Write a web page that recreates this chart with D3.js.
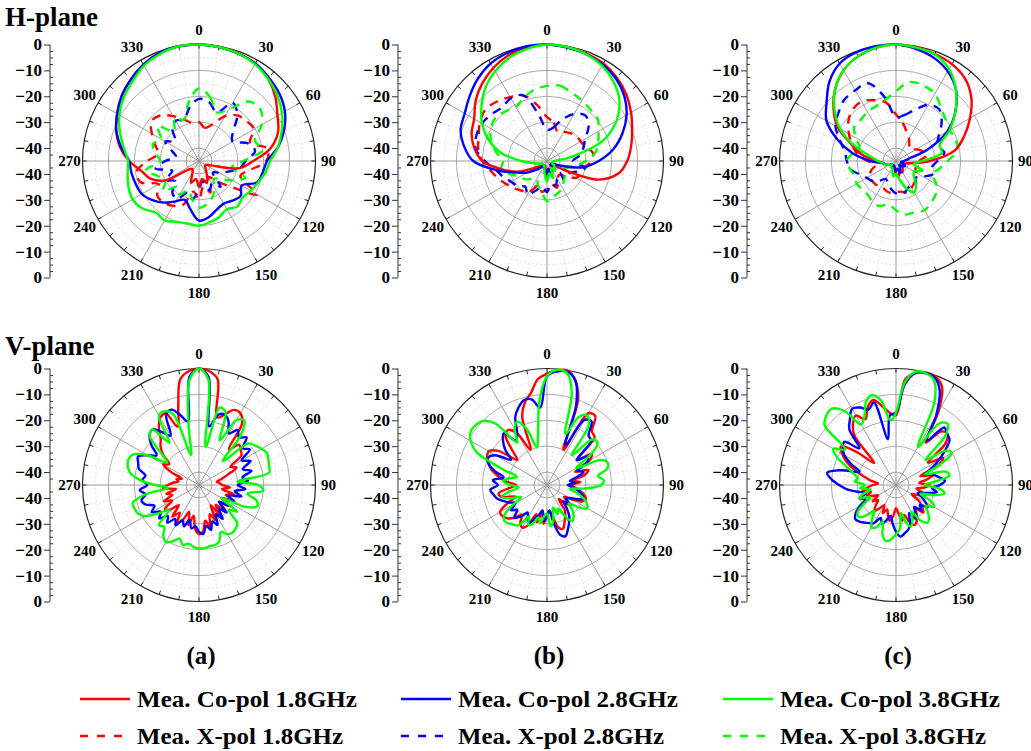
<!DOCTYPE html>
<html>
<head>
<meta charset="utf-8">
<script src="https://cdn.jsdelivr.net/npm/d3@7"></script>
<style>
    body { margin: 0; background: #fff; }
    svg text { font-family: "Liberation Serif", "DejaVu Serif", "Times New Roman", serif !important; font-weight: bold; fill: #000; }
</style>
</head>
<body>
<svg id="chart" width="1031" height="751" font-family="Liberation Serif, DejaVu Serif, serif"></svg>
<script>

// angles (deg) for the H-plane cuts and V-plane cuts
var anglesH = d3.range(0, 360, 10);
var anglesV = d3.range(0, 360, 5);

var panelLabels = ["(a)", "(b)", "(c)"];
var radialTicks = [0, -10, -20, -30, -40];
var angleTicks = [0, 30, 60, 90, 120, 150, 180, 210, 240, 270, 300, 330];

var legendNames = ["Mea. Co-pol 1.8GHz", "Mea. Co-pol 2.8GHz", "Mea. Co-pol 3.8GHz",
    "Mea. X-pol 1.8GHz", "Mea. X-pol 2.8GHz", "Mea. X-pol 3.8GHz"];

// H-plane, panel (a)
var hA_co18 = [0,-0.3,-0.8,-1.5,-3.5,-6.5,-10,-12.5,-17,-24,-29,-40,-42,-42,-41,-39,-36,-38,-35,-38,-36,-40,-41,-40,-30,-25,-22.5,-18,-14,-11,-8.5,-6,-4,-2,-0.5,0];
var hA_co28 = [0,-0.3,-0.8,-1.5,-3,-4.5,-6.7,-10,-14,-18.7,-20,-21,-26,-24,-25,-26,-25,-23,-22,-26,-29,-27,-24,-21.5,-19.5,-19,-18.5,-18,-14.5,-11,-8.5,-6,-4,-2,-0.5,0];
var hA_co38 = [0,-0.3,-0.8,-1.8,-3.5,-5.5,-8,-11,-14,-17.5,-19,-20.7,-22,-23,-22,-23.5,-22,-21,-20,-20.5,-20,-18.5,-19,-16.5,-15.4,-16,-17,-17.6,-15.5,-12.5,-9.5,-7,-5,-2.5,-1,0];
var hA_x18 = [-30,-32,-30,-25,-22,-21,-20.5,-24,-18,-19,-25,-28,-19,-30,-35,-38,-32,-35,-30,-33,-27,-25,-24,-24,-27,-21,-20.5,-25,-29,-27,-24,-21,-22,-25,-28,-30];
var hA_x28 = [-21,-22,-25,-19,-22,-28,-30,-25,-23,-27,-29,-33,-36,-38,-32,-35,-33,-37,-34,-30,-32,-28,-29,-33,-30,-34,-28,-32,-36,-34,-30,-33,-29,-27,-28,-24];
var hA_x38 = [-17,-20,-25,-22,-15,-14,-17,-22,-20,-28,-32,-26,-30,-34,-36,-33,-30,-28,-27,-30,-33,-30,-32,-27,-30,-28,-24,-30,-28,-26,-28,-24,-30,-26,-28,-22];

// H-plane, panel (b)
var hB_co18 = [0,-0.3,-0.8,-1.5,-3,-5,-7.5,-10,-12,-14,-17,-24,-40,-43,-43,-42,-40,-42,-39,-42,-43,-43,-43,-42,-40,-33,-27,-20,-16.5,-14,-12.5,-9,-6,-3.5,-1.5,-0.5];
var hB_co28 = [0,-0.5,-1,-2,-3.5,-6,-9.5,-14,-19,-25,-31,-40,-43,-43,-42,-41,-40,-42,-40,-41,-42,-43,-42,-40,-36,-32,-25,-16.5,-12.5,-9.5,-8.3,-6,-3.5,-1.5,-0.5,0];
var hB_co38 = [0,-0.3,-1,-2.5,-5,-8.5,-14,-22,-35,-42,-43,-43,-42,-41,-40,-42,-38,-40,-37,-40,-42,-43,-43,-43,-43,-42,-40,-35,-27,-21,-16,-12,-8,-5,-2.5,-1];
var hB_x18 = [-28,-30,-33,-32,-31,-30,-30,-29,-27,-28,-30,-31,-32,-36,-38,-36,-34,-36,-34,-33,-35,-31,-30,-28.5,-27,-25,-23,-20,-18,-17,-15,-14,-15,-16.5,-18,-23];
var hB_x28 = [-33,-32,-28,-24,-22,-24,-28,-30,-32,-35,-30,-33,-36,-38,-35,-37,-35,-36,-33,-35,-33,-30,-32,-30,-29,-27,-25,-21,-17,-16,-16,-17,-18,-17,-18,-27];
var hB_x38 = [-16,-15.5,-17,-18,-19,-19.5,-22,-24,-26,-30,-34,-37,-38,-36,-35,-33,-32,-31,-29.5,-33,-35,-37,-36,-34,-33,-30,-27,-28,-25,-22,-20,-19,-20,-21,-19,-17];

// H-plane, panel (c)
var hC_co18 = [0,-0.3,-1,-1.8,-3.5,-7,-12,-17,-22,-32,-40,-42,-43,-42,-41,-40,-41,-39,-40,-42,-43,-43,-42,-43,-42,-41,-40,-38,-32,-27,-19,-13.5,-8.5,-4.5,-2,-0.5];
var hC_co28 = [0,-1,-2.5,-5,-9,-15,-22,-32,-40,-42,-43,-42,-41,-42,-43,-42,-40,-42,-41,-42,-43,-43,-42,-43,-42,-41,-40,-35,-28,-21,-14,-10,-5,-1.5,-0.3,0];
var hC_co38 = [0,-0.5,-1.2,-4,-9,-15,-21,-27,-27,-35,-38,-34,-37,-36,-33,-31,-34,-38,-40,-39,-41,-42,-42,-43,-42,-41,-40,-38,-35,-28,-20,-14,-8.5,-4.5,-2,-0.5];
var hC_x18 = [-27,-30,-33,-35,-37,-38,-36,-34,-33,-36,-35,-37,-36,-35,-34,-33,-32,-33,-33,-32.5,-33,-34,-33,-33,-33,-35,-37,-34,-30,-27,-24,-21,-19,-18.5,-20,-22];
var hC_x28 = [-28,-27,-24,-20,-19,-22,-26,-28,-26,-29,-31,-30,-33,-35,-33,-34,-33,-32,-32.5,-34,-36,-37,-35,-33,-32,-30,-27,-26,-25,-22,-18,-16,-14,-13.5,-13,-20];
var hC_x38 = [-18,-14,-14,-15,-18,-20,-21,-20.5,-21,-25,-28,-30,-27,-25,-24,-23,-24,-24,-26,-28,-26.5,-27,-28,-28,-27.5,-28,-27,-26,-28,-30,-27,-24,-24,-23,-22.5,-21];

// V-plane, panel (a)
var vA_co18 = [0,-0.8,-3.5,-18,-16,-13,-13,-16,-27,-23,-24,-25,
    -31,-29,-33,-36,-38,-37,-36,-33,-36,-31,-34,-30,
    -35,-31,-34,-30,-35,-31,-36,-30,-33,-28,-31,-27,
    -26,-28,-33,-29,-34,-30,-28,-32,-29,-34,-30,-29,
    -33,-30,-34,-32,-36,-31,-33,-35,-37,-36,-38,-33,
    -29,-31,-27,-24,-22,-18,-15,-14.5,-21,-14,-3.5,-0.8];
var vA_co28 = [0,-3,-22,-17,-16,-18,-22,-19,-21,-19,-23,-21,
    -26,-23,-27,-24,-28,-26,-30,-27,-31,-28,-33,-30,
    -34,-31,-35,-30,-33,-29,-32,-28,-30,-27,-29,-26,
    -27,-29,-28,-31,-28,-30,-27,-29,-26,-28,-25,-27,
    -24,-26,-23,-22,-24,-22,-25,-23,-24,-21,-20,-19,
    -22,-25,-21,-18,-17,-20,-23,-15,-14,-17,-20,-3];
var vA_co38 = [0,-4,-30,-14,-15,-26,-16,-14.5,-20,-32,-20,-18.5,
    -17,-16,-16.5,-17,-17.5,-30,-22,-20,-26,-22,-21,-25,
    -35,-27,-30,-24,-23,-22.5,-23,-25,-22,-21,-21,-20.5,
    -20.5,-21,-22,-21,-23,-21,-19.5,-21,-24,-23,-30,-26,
    -21,-19,-18.5,-18.5,-24,-33,-28,-22,-18,-16.5,-16,-17,
    -22,-30,-26,-18,-17,-25,-14,-13.5,-16,-33,-22,-4];

// V-plane, panel (b)
var vB_co18 = [-2,-0.5,0,-3,-10,-30,-13,-12.5,-18,-19,-30,-24,
    -26,-33,-28,-30,-35,-32,-36,-34,-32,-30,-29,-30,
    -34,-37,-33,-35,-38,-33,-31,-29,-27,-28,-33,-35,
    -33,-30,-34,-30,-33,-28,-26,-27,-30,-27,-25,-24,
    -24,-28,-32,-27,-26,-30,-33,-29,-26,-23,-21,-19.5,
    -19,-22,-30,-26,-20,-19,-22,-30,-17,-12,-9,-4];
var vB_co28 = [-3,-1,-0.5,-3,-12,-28,-16,-15,-20,-21,-30,-26,
    -27,-32,-30,-33,-36,-34,-37,-35,-33,-31,-30,-32,
    -35,-36,-34,-36,-33,-30,-28,-26,-24,-25,-30,-35,
    -33,-31,-35,-33,-31,-29,-30,-32,-29,-27,-30,-28,
    -31,-29,-27,-25,-24,-23,-26,-24,-28,-24,-21,-20,
    -22,-28,-24,-21,-19,-24,-22,-16,-13,-11,-11.5,-15];
var vB_co38 = [-3,-0.3,-1,-8,-24,-16,-14,-17,-30,-20,-19.5,-24,
    -32,-22,-20,-21,-25,-23,-24,-30,-36,-33,-30,-28,
    -27,-30,-34,-31,-29,-28,-31,-35,-33,-36,-31,-29,
    -34,-33,-30,-32,-29,-28,-31,-26,-25,-24,-23.5,-25,
    -30,-34,-30,-27,-30,-34,-31,-28,-30,-33,-26,-15,
    -11,-9,-9,-10,-14,-25,-20,-18,-22,-30,-25,-12];

// V-plane, panel (c)
var vC_co18 = [-18,-4,-1,0,-0.5,-3,-12,-25,-18,-17,-20,-30,
    -24,-27,-35,-30,-33,-36,-32,-34,-37,-35,-33,-36,
    -38,-34,-32,-30,-33,-31,-29,-28,-30,-33,-31,-34,
    -36,-33,-31,-33,-35,-33,-36,-34,-32,-34,-36,-34,
    -37,-35,-33,-35,-32,-34,-36,-38,-35,-32,-28,-24,
    -21,-19,-25,-33,-20,-16,-14,-17,-13,-11,-14,-17];
var vC_co28 = [-17,-6,-1,-0.3,-1,-5,-14,-24,-16,-17,-18,-22,
    -26,-30,-33,-30,-28,-26,-28,-31,-29,-33,-36,-34,
    -32,-30,-33,-31,-34,-32,-30,-33,-29,-27,-26,-25,
    -27,-30,-33,-31,-29,-31,-28,-27,-26,-25,-24.5,-26,
    -29,-32,-30,-33,-30,-26,-23,-20,-18,-23,-30,-26,
    -22,-20,-19,-25,-17,-14,-11,-12,-14,-12,-27,-18];
var vC_co38 = [-17,-5,-0.5,-0.3,-2,-10,-28,-16,-14,-18,-30,-22,
    -20,-26,-33,-25,-24,-30,-34,-28,-26,-30,-35,-30,
    -28,-31,-29,-27,-26,-28,-33,-30,-28,-30,-34,-28,
    -26,-24,-23,-25,-30,-27,-26,-29,-32,-28,-26,-27,
    -31,-34,-30,-32,-35,-31,-33,-29,-30,-28,-25,-20,
    -17,-21,-9,-7,-6.5,-10,-18,-16,-11,-9,-12,-20];

var colors = ["#ff0000", "#0000ff", "#00ff00"];

function init() {

    var svg = d3.select("#chart");
    var R = 116.5;
    var centresX = [199, 547, 896];
    var centresY = [161, 485];

    var r = d3.scaleLinear().domain([-45, 0]).range([0, R]).clamp(true);

    function series(angles, values, color, dashed) {
        return {
            color: color,
            dashed: dashed,
            points: angles.map(function (a, i) {
                return {a: a, v: values[i]};
            })
        };
    }

    var panels = [
        {row: 0, col: 0, lines: [
            series(anglesH, hA_x18, colors[0], true), series(anglesH, hA_x28, colors[1], true), series(anglesH, hA_x38, colors[2], true),
            series(anglesH, hA_co18, colors[0], false), series(anglesH, hA_co28, colors[1], false), series(anglesH, hA_co38, colors[2], false)]},
        {row: 0, col: 1, lines: [
            series(anglesH, hB_x18, colors[0], true), series(anglesH, hB_x28, colors[1], true), series(anglesH, hB_x38, colors[2], true),
            series(anglesH, hB_co18, colors[0], false), series(anglesH, hB_co28, colors[1], false), series(anglesH, hB_co38, colors[2], false)]},
        {row: 0, col: 2, lines: [
            series(anglesH, hC_x18, colors[0], true), series(anglesH, hC_x28, colors[1], true), series(anglesH, hC_x38, colors[2], true),
            series(anglesH, hC_co18, colors[0], false), series(anglesH, hC_co28, colors[1], false), series(anglesH, hC_co38, colors[2], false)]},
        {row: 1, col: 0, lines: [
            series(anglesV, vA_co18, colors[0], false), series(anglesV, vA_co28, colors[1], false), series(anglesV, vA_co38, colors[2], false)]},
        {row: 1, col: 1, lines: [
            series(anglesV, vB_co18, colors[0], false), series(anglesV, vB_co28, colors[1], false), series(anglesV, vB_co38, colors[2], false)]},
        {row: 1, col: 2, lines: [
            series(anglesV, vC_co18, colors[0], false), series(anglesV, vC_co28, colors[1], false), series(anglesV, vC_co38, colors[2], false)]}
    ];

    function drawPanel(panel) {
        var cx = centresX[panel.col];
        var cy = centresY[panel.row];
        var g = svg.append("g").attr("transform", "translate(" + cx + "," + cy + ")");

        //dotted minor rings and spokes
        g.selectAll(".minor-ring")
            .data([-5, -15, -25, -35])
            .enter()
            .append("circle")
            .attr("r", function (d) { return r(d); })
            .attr("fill", "none")
            .attr("stroke", "#c8c8c8")
            .attr("stroke-width", 0.7)
            .attr("stroke-dasharray", "1.5,2.5");

        g.selectAll(".minor-spoke")
            .data(d3.range(0, 360, 10).filter(function (a) { return a % 30 !== 0; }))
            .enter()
            .append("line")
            .attr("x1", 0).attr("y1", 0)
            .attr("x2", function (d) { return R * Math.sin(d * Math.PI / 180); })
            .attr("y2", function (d) { return -R * Math.cos(d * Math.PI / 180); })
            .attr("stroke", "#c8c8c8")
            .attr("stroke-width", 0.7)
            .attr("stroke-dasharray", "1.5,2.5");

        //major rings and spokes
        g.selectAll(".major-ring")
            .data([-10, -20, -30, -40])
            .enter()
            .append("circle")
            .attr("r", function (d) { return r(d); })
            .attr("fill", "none")
            .attr("stroke", "#a0a0a0")
            .attr("stroke-width", 0.9);

        g.selectAll(".major-spoke")
            .data(angleTicks)
            .enter()
            .append("line")
            .attr("x1", 0).attr("y1", 0)
            .attr("x2", function (d) { return R * Math.sin(d * Math.PI / 180); })
            .attr("y2", function (d) { return -R * Math.cos(d * Math.PI / 180); })
            .attr("stroke", "#909090")
            .attr("stroke-width", 0.9);

        //outer circle with 10 degree ticks
        g.append("circle")
            .attr("r", R)
            .attr("fill", "none")
            .attr("stroke", "#222")
            .attr("stroke-width", 1.2);

        g.selectAll(".outer-tick")
            .data(d3.range(0, 360, 10))
            .enter()
            .append("line")
            .attr("x1", function (d) { return R * Math.sin(d * Math.PI / 180); })
            .attr("y1", function (d) { return -R * Math.cos(d * Math.PI / 180); })
            .attr("x2", function (d) { return (R - 4) * Math.sin(d * Math.PI / 180); })
            .attr("y2", function (d) { return -(R - 4) * Math.cos(d * Math.PI / 180); })
            .attr("stroke", "#222")
            .attr("stroke-width", 1);

        g.selectAll(".angle-label")
            .data(angleTicks)
            .enter()
            .append("text")
            .attr("x", function (d) { return (R + 13 + 5 * Math.abs(Math.cos(d * Math.PI / 180))) * Math.sin(d * Math.PI / 180); })
            .attr("y", function (d) { return -(R + 15) * Math.cos(d * Math.PI / 180); })
            .attr("text-anchor", "middle")
            .attr("dominant-baseline", "central")
            .attr("font-size", 15)
            .text(function (d) { return d; });

        //pattern curves
        var line = d3.lineRadial()
            .angle(function (d) { return d.a * Math.PI / 180; })
            .radius(function (d) { return r(d.v); })
            .curve(d3.curveCatmullRomClosed.alpha(0.5));

        g.selectAll(".trace")
            .data(panel.lines)
            .enter()
            .append("path")
            .attr("d", function (d) { return line(d.points); })
            .attr("fill", "none")
            .attr("stroke", function (d) { return d.color; })
            .attr("stroke-width", 2.4)
            .attr("stroke-linejoin", "round")
            .attr("stroke-dasharray", function (d) { return d.dashed ? "9,7" : null; });

        //left radial axis (0 .. -45 .. 0)
        var upper = d3.scaleLinear().domain([0, -45]).range([-R, 0]);
        var lower = d3.scaleLinear().domain([-45, 0]).range([0, R]);
        var axisG = g.append("g").attr("transform", "translate(-149,0)");

        [upper, lower].forEach(function (s) {
            axisG.append("g")
                .call(d3.axisLeft(s).tickValues(radialTicks).tickSize(6).tickSizeOuter(0))
                .call(function (a) {
                    a.attr("font-family", null).attr("font-size", null);
                    a.select(".domain").remove();
                    a.selectAll("line").attr("stroke", "#333");
                    a.selectAll("text")
                        .attr("font-size", 17)
                        .attr("fill", "#000")
                        .attr("x", -8);
                });
            axisG.append("g")
                .call(d3.axisRight(s).tickValues(d3.range(0, -45, -2.5).filter(function (v) { return v % 10 !== 0; })).tickSize(3).tickFormat(""))
                .call(function (a) {
                    a.select(".domain").remove();
                    a.selectAll("line").attr("stroke", "#333");
                });
        });

        axisG.append("line")
            .attr("x1", 0).attr("x2", 0)
            .attr("y1", -R).attr("y2", R)
            .attr("stroke", "#333")
            .attr("stroke-width", 1);
    }

    panels.forEach(drawPanel);

    //row titles
    svg.append("text").attr("x", 5).attr("y", 26).attr("font-size", 27).text("H-plane");
    svg.append("text").attr("x", 5).attr("y", 355).attr("font-size", 27).text("V-plane");

    //panel captions
    svg.selectAll(".caption")
        .data(panelLabels)
        .enter()
        .append("text")
        .attr("x", function (d, i) { return centresX[i] + 2; })
        .attr("y", 664)
        .attr("text-anchor", "middle")
        .attr("font-size", 25)
        .text(function (d) { return d; });

    //legend
    var legendX = [80, 401, 723];
    var legendY = [699, 736];
    var legend = svg.append("g");
    legendNames.forEach(function (name, i) {
        var col = i % 3;
        var row = Math.floor(i / 3);
        legend.append("line")
            .attr("x1", legendX[col]).attr("x2", legendX[col] + 50)
            .attr("y1", legendY[row]).attr("y2", legendY[row])
            .attr("stroke", colors[col])
            .attr("stroke-width", 2.6)
            .attr("stroke-dasharray", row === 1 ? "8,9" : null);
        legend.append("text")
            .attr("x", legendX[col] + 57)
            .attr("y", legendY[row] + 8)
            .attr("font-size", 23)
            .attr("textLength", row === 0 ? 220 : 206)
            .attr("lengthAdjust", "spacingAndGlyphs")
            .text(name);
    });
}

init();
</script>
</body>
</html>
